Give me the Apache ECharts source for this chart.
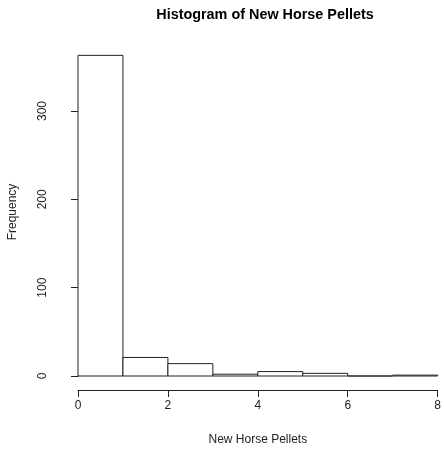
<!DOCTYPE html>
<html>
<head>
<meta charset="utf-8">
<script src="https://cdn.jsdelivr.net/npm/echarts@6/dist/echarts.min.js"></script>
<style>html,body{margin:0;padding:0;background:#fff;}#c{width:444px;height:451px;}</style>
</head>
<body>
<div id="c"></div>
<script>
const binStarts = [0, 1, 2, 3, 4, 5, 6, 7];
const binEnds = [1, 2, 3, 4, 5, 6, 7, 8];
const counts = [363, 21, 14, 2, 5, 3, 0, 1];
const xTicks = [0, 2, 4, 6, 8];
const yTicks = [0, 100, 200, 300];

const FONT = 'Liberation Sans, Arial, sans-serif';
const INK = '#222';

const chart = echarts.init(document.getElementById('c'));
chart.setOption({
  animation: false,
  backgroundColor: '#fff',
  title: {
    text: 'Histogram of New Horse Pellets',
    left: 260, top: 3,
    textAlign: 'center',
    textStyle: { fontFamily: FONT, fontSize: 14.4, fontWeight: 'bold', color: '#000' }
  },
  graphic: [{
    type: 'text',
    x: 13, y: 212,
    rotation: Math.PI / 2,
    style: {
      text: 'Frequency',
      font: '12px ' + FONT,
      fill: INK,
      align: 'center',
      verticalAlign: 'middle'
    }
  }],
  grid: { left: 78, right: 3, top: 111, bottom: 75 },
  xAxis: {
    type: 'value', min: 0, max: 8, interval: 2,
    offset: 14,
    name: 'New Horse Pellets', nameLocation: 'middle', nameGap: 44,
    nameTextStyle: { fontFamily: FONT, fontSize: 12, color: INK, verticalAlign: 'top' },
    axisLine: { show: true, onZero: false, lineStyle: { color: INK, width: 1 } },
    axisTick: { show: true, length: 7, lineStyle: { color: INK } },
    axisLabel: { margin: 10, fontFamily: FONT, fontSize: 12, color: INK },
    splitLine: { show: false }
  },
  yAxis: {
    type: 'value', min: 0, max: 300, interval: 100,
    offset: 12,
    axisLine: { show: true, lineStyle: { color: INK, width: 1 } },
    axisTick: { show: true, length: 7, lineStyle: { color: INK } },
    axisLabel: { rotate: 90, margin: 17, fontFamily: FONT, fontSize: 12, color: INK },
    splitLine: { show: false }
  },
  series: [{
    type: 'custom',
    clip: false,
    data: binStarts.map((s, i) => [s, binEnds[i], counts[i]]),
    renderItem: function (params, api) {
      const p0 = api.coord([api.value(0), 0]);
      const p1 = api.coord([api.value(1), api.value(2)]);
      return {
        type: 'rect',
        shape: { x: p0[0], y: p1[1], width: p1[0] - p0[0], height: p0[1] - p1[1] },
        style: { fill: '#fff', stroke: INK, lineWidth: 1 }
      };
    }
  }]
});
</script>
</body>
</html>
